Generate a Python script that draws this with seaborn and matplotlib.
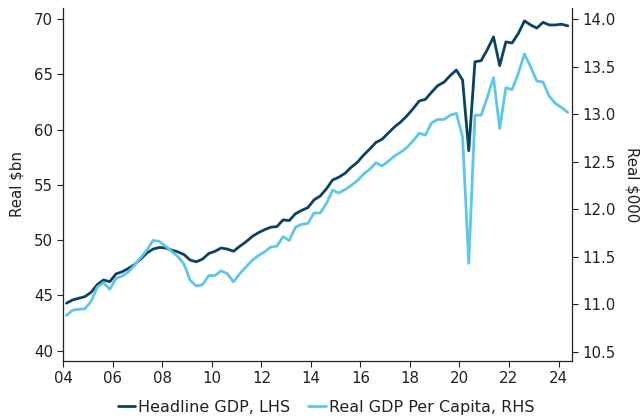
import numpy as np
import pandas as pd
import matplotlib
matplotlib.use("Agg")
import matplotlib.pyplot as plt
import seaborn as sns

# Quarterly, 2004Q1 .. 2024Q2
years = list(range(2004, 2025))
headline_gdp = [
    44.3, 44.6, 44.75, 44.9,
    45.3, 46.0, 46.4, 46.25,
    46.95, 47.15, 47.45, 47.8,
    48.3, 48.85, 49.2, 49.35,
    49.3, 49.1, 48.95, 48.7,
    48.2, 48.05, 48.3, 48.8,
    49.0, 49.3, 49.2, 49.0,
    49.45, 49.85, 50.33, 50.68,
    50.95, 51.18, 51.23, 51.84,
    51.78, 52.4, 52.7, 52.95,
    53.65, 54.0, 54.65, 55.45,
    55.7, 56.05, 56.6, 57.05,
    57.7, 58.25, 58.85, 59.14,
    59.7, 60.25, 60.7, 61.25,
    61.9, 62.6, 62.75, 63.4,
    64.0, 64.3, 64.9, 65.4,
    64.5, 58.1, 66.15, 66.25,
    67.25, 68.4, 65.8, 67.95,
    67.85, 68.7, 69.85, 69.48,
    69.2, 69.72, 69.48, 69.48,
    69.55, 69.4,
]
gdp_per_capita = [
    10.88, 10.935, 10.945, 10.95,
    11.03, 11.18, 11.225, 11.155,
    11.27, 11.295, 11.34, 11.41,
    11.49, 11.57, 11.67, 11.66,
    11.61, 11.555, 11.50, 11.42,
    11.25, 11.19, 11.205, 11.30,
    11.30, 11.35, 11.32, 11.235,
    11.32, 11.39, 11.46, 11.51,
    11.55, 11.60, 11.61, 11.71,
    11.67, 11.81, 11.84, 11.85,
    11.96, 11.96, 12.06, 12.20,
    12.17, 12.205, 12.25, 12.30,
    12.37, 12.42, 12.49, 12.455,
    12.505, 12.56, 12.60, 12.65,
    12.72, 12.80, 12.78, 12.91,
    12.945, 12.945, 12.99, 13.01,
    12.76, 11.43, 12.99, 12.99,
    13.18, 13.385, 12.85, 13.28,
    13.26, 13.43, 13.635, 13.50,
    13.35, 13.34, 13.19, 13.115,
    13.07, 13.02,
]
x_tick_years = [2004, 2006, 2008, 2010, 2012, 2014, 2016, 2018, 2020, 2022, 2024]
x_tick_labels = ["04", "06", "08", "10", "12", "14", "16", "18", "20", "22", "24"]
left_ticks = [40, 45, 50, 55, 60, 65, 70]
right_ticks = [10.5, 11.0, 11.5, 12.0, 12.5, 13.0, 13.5, 14.0]

n = len(headline_gdp)
t = [years[0] + (i + 0.5) / 4 for i in range(n)]
df = pd.DataFrame({"t": t, "headline": headline_gdp, "percap": gdp_per_capita})

sns.set_style("ticks")
plt.rcParams["font.family"] = ["DejaVu Sans"]
text_color = "#222222"

dark = "#0a4266"
light = "#5bc7ea"

fig = plt.figure(figsize=(6.43, 4.19), dpi=100)
ax = fig.add_axes([0.0985, 0.1384, 0.889 - 0.0985, 0.981 - 0.1384])
ax2 = ax.twinx()

sns.lineplot(data=df, x="t", y="headline", ax=ax, color=dark, linewidth=2.0,
             label="Headline GDP, LHS", legend=False)
sns.lineplot(data=df, x="t", y="percap", ax=ax2, color=light, linewidth=2.0,
             label="Real GDP Per Capita, RHS", legend=False)

ax.set_xlim(2004.0, 2024.53)
ax.set_ylim(39.07, 71.02)
ax2.set_ylim(10.40, 14.12)

ax.set_xticks(x_tick_years)
ax.set_xticklabels(x_tick_labels)
ax.set_yticks(left_ticks)
ax.set_yticklabels([str(v) for v in left_ticks])
ax2.set_yticks(right_ticks)
ax2.set_yticklabels([f"{v:.1f}" for v in right_ticks])

ax.set_xlabel("")
ax.set_ylabel("Real $bn", fontsize=10.8, color=text_color, labelpad=7)
ax2.set_ylabel("Real $000", fontsize=10.8, color=text_color, rotation=270, labelpad=17)

for a in (ax, ax2):
    a.tick_params(axis="both", labelsize=10.8, colors=text_color, length=4, width=0.8)
    for s in a.spines.values():
        s.set_color("#222222")
        s.set_linewidth(0.9)
    a.spines["top"].set_visible(False)
ax.spines["right"].set_visible(False)
ax2.spines["left"].set_visible(False)
ax2.spines["bottom"].set_visible(False)

h1, l1 = ax.get_legend_handles_labels()
h2, l2 = ax2.get_legend_handles_labels()
fig.legend(h1 + h2, l1 + l2, loc="center", bbox_to_anchor=(0.507, 0.028), ncol=2,
           frameon=False, fontsize=11.5, handlelength=1.1, handletextpad=0.2,
           columnspacing=1.1, labelcolor=text_color)

fig.savefig("out.png", dpi=100)
